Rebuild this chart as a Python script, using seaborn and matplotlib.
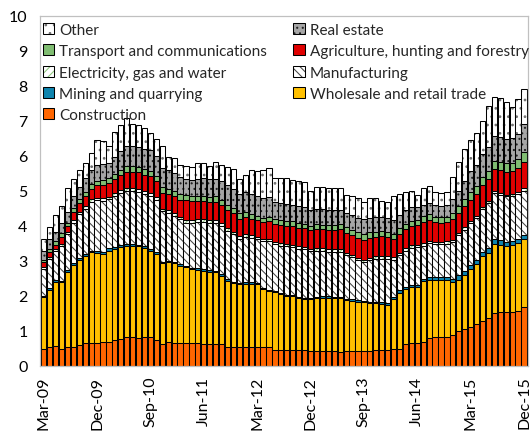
import numpy as np
import pandas as pd
import matplotlib
matplotlib.use("Agg")
import matplotlib.pyplot as plt
import matplotlib.colors as mcolors
from matplotlib.patches import Patch
import seaborn as sns

# Monthly observations, Mar-09 .. Dec-15
months = pd.date_range("2009-03-01", "2015-12-01", freq="MS")
tick_every = 9

construction = [.50, .53, .58, .49, .53, .55, .60, .65, .65, .65, .68, .70,
                .74, .77, .82, .82, .80, .82, .82, .74, .63, .68, .65, .65,
                .65, .65, .65, .63, .63, .63, .63, .55, .53, .53, .53, .53,
                .53, .53, .53, .47, .47, .47, .47, .47, .47, .42, .44, .44,
                .44, .42, .40, .44, .44, .42, .44, .44, .45, .45, .45, .49,
                .50, .62, .65, .65, .68, .80, .82, .82, .84, .90, 1.00, 1.05,
                1.12, 1.20, 1.28, 1.38, 1.52, 1.53, 1.53, 1.53, 1.57, 1.70]
wholesale = [1.46, 1.65, 1.83, 1.90, 2.15, 2.35, 2.43, 2.50, 2.60, 2.58, 2.52, 2.60,
             2.60, 2.62, 2.62, 2.61, 2.62, 2.55, 2.48, 2.46, 2.30, 2.28, 2.28, 2.22,
             2.17, 2.12, 2.10, 2.09, 2.07, 2.05, 1.95, 1.89, 1.84, 1.81, 1.82, 1.82,
             1.81, 1.67, 1.62, 1.65, 1.59, 1.54, 1.52, 1.47, 1.44, 1.49, 1.49, 1.51,
             1.51, 1.52, 1.54, 1.44, 1.43, 1.42, 1.38, 1.36, 1.34, 1.33, 1.30, 1.43,
             1.60, 1.58, 1.60, 1.60, 1.74, 1.66, 1.63, 1.63, 1.61, 1.50, 1.47, 1.55,
             1.65, 1.71, 1.85, 1.84, 1.96, 1.93, 1.89, 1.93, 1.95, 1.92]
mining = [.03, .04, .04, .05, .05, .05, .05, .05, .05, .05, .06, .06,
          .06, .06, .05, .05, .05, .05, .05, .05, .04, .04, .04, .04,
          .04, .04, .04, .04, .04, .04, .04, .04, .04, .04, .05, .05,
          .03, .03, .03, .03, .03, .03, .03, .03, .03, .04, .04, .04,
          .04, .04, .04, .04, .04, .04, .04, .04, .04, .04, .04, .06,
          .06, .07, .07, .07, .07, .08, .08, .08, .09, .10, .12, .12,
          .13, .13, .14, .14, .14, .14, .13, .12, .12, .12]
manufacturing = [.78, .84, .85, 1.00, 1.04, 1.15, 1.25, 1.30, 1.38, 1.45, 1.45, 1.40,
                 1.45, 1.50, 1.51, 1.52, 1.50, 1.50, 1.52, 1.50, 1.45, 1.38, 1.33, 1.28,
                 1.24, 1.28, 1.33, 1.35, 1.35, 1.38, 1.38, 1.38, 1.35, 1.25, 1.28, 1.25,
                 1.26, 1.33, 1.38, 1.33, 1.35, 1.38, 1.37, 1.38, 1.40, 1.33, 1.33, 1.30,
                 1.28, 1.28, 1.29, 1.25, 1.20, 1.15, 1.10, 1.18, 1.22, 1.25, 1.28, 1.05,
                 1.00, 1.02, 1.05, 1.07, .95, .97, .95, .95, .95, 1.05, 1.15, 1.18,
                 1.18, 1.20, 1.22, 1.30, 1.33, 1.30, 1.30, 1.28, 1.28, 1.27]
electricity = [.05, .05, .05, .05, .07, .07, .07, .07, .08, .08, .08, .08,
               .08, .08, .09, .09, .09, .08, .08, .08, .08, .08, .08, .08,
               .08, .08, .08, .08, .08, .08, .08, .08, .08, .08, .08, .08,
               .07, .07, .07, .07, .07, .07, .07, .07, .07, .07, .07, .07,
               .07, .07, .07, .07, .07, .07, .08, .08, .08, .08, .08, .08,
               .08, .08, .08, .08, .08, .07, .07, .07, .07, .06, .06, .06,
               .05, .05, .05, .05, .05, .05, .05, .05, .05, .07]
agriculture = [.15, .14, .12, .19, .16, .23, .25, .28, .30, .35, .38, .38,
               .40, .43, .45, .45, .47, .47, .47, .45, .45, .45, .47, .48,
               .57, .55, .52, .52, .52, .52, .52, .52, .52, .50, .50, .48,
               .48, .48, .50, .52, .52, .52, .53, .52, .52, .53, .55, .55,
               .56, .56, .57, .57, .57, .57, .57, .57, .56, .56, .55, .53,
               .54, .55, .55, .55, .59, .59, .57, .55, .55, .58, .58, .60,
               .62, .62, .62, .62, .62, .65, .65, .65, .68, .74]
transport = [.07, .08, .11, .11, .10, .12, .12, .12, .13, .14, .14, .14,
             .15, .15, .17, .17, .16, .16, .16, .16, .16, .16, .16, .16,
             .15, .15, .15, .15, .15, .15, .15, .15, .15, .15, .13, .12,
             .12, .12, .12, .14, .14, .14, .14, .14, .14, .13, .13, .13,
             .14, .14, .14, .15, .15, .15, .16, .15, .15, .15, .14, .14,
             .15, .15, .15, .15, .17, .17, .15, .15, .15, .17, .18, .20,
             .22, .22, .24, .24, .24, .24, .24, .24, .26, .30]
real_estate = [.24, .30, .26, .31, .29, .33, .35, .40, .42, .45, .45, .45,
               .50, .52, .58, .58, .58, .58, .58, .56, .55, .52, .50, .50,
               .43, .45, .48, .50, .50, .50, .53, .55, .55, .55, .58, .58,
               .57, .57, .57, .48, .48, .48, .48, .48, .48, .44, .44, .44,
               .43, .43, .41, .42, .42, .42, .42, .42, .42, .40, .38, .38,
               .38, .38, .38, .38, .33, .33, .33, .33, .33, .40, .45, .52,
               .60, .62, .65, .70, .71, .71, .70, .70, .72, .79]
other = [.35, .35, .48, .48, .71, .49, .48, .43, .49, .70, .66, .49,
         .72, .77, .79, .63, .61, .59, .50, .48, .62, .38, .44, .34,
         .39, .36, .45, .44, .38, .47, .47, .52, .57, .43, .49, .70,
         .71, .80, .83, .68, .72, .74, .70, .74, .72, .56, .61, .64,
         .61, .64, .64, .52, .55, .55, .49, .56, .53, .46, .46, .71,
         .60, .53, .48, .34, .47, .48, .36, .36, .39, .63, .82, .92,
         .88, .90, .95, 1.17, 1.13, 1.10, 1.04, .89, 1.00, 1.01]

# stacking order, bottom to top: (label, values, face, hatch, hatch colour)
layers = [
    ("Construction", construction, "#FF6600", None, "black"),
    ("Wholesale and retail trade", wholesale, "#FFC000", None, "black"),
    ("Mining and quarrying", mining, "#0E84AE", None, "black"),
    ("Manufacturing", manufacturing, "white", "\\\\\\\\", "#454545"),
    ("Electricity, gas and water", electricity, "white", "////", "#8CC57A"),
    ("Agriculture, hunting and forestry", agriculture, "#E00000", None, "black"),
    ("Transport and communications", transport, "#80BD72", None, "black"),
    ("Real estate", real_estate, "#A6A6A6", "...", "#222222"),
    ("Other", other, "white", "..", "#707070"),
]

sns.set_theme(style="white")
plt.rcParams["font.family"] = ["Lato", "DejaVu Sans"]
plt.rcParams["hatch.linewidth"] = 0.75

fig = plt.figure(figsize=(5.31, 4.35), dpi=100)
ax = fig.add_axes([40 / 531, 1 - 367 / 435, 488 / 531, 350 / 435])

values = np.array([layer[1] for layer in layers])
tops = np.cumsum(values, axis=0)
pos = np.arange(len(months))

# draw cumulative bars from the top series down so each lower one covers the rest
for k in reversed(range(len(layers))):
    label, _, face, hatch, hcol = layers[k]
    n_before = len(ax.patches)
    sns.barplot(x=pos, y=tops[k], color=face, saturation=1, width=0.88,
                edgecolor="black", linewidth=0.75, hatch=hatch,
                errorbar=None, ax=ax)
    for p in ax.patches[n_before:]:
        p._hatch_color = mcolors.to_rgba(hcol)

ax.set_xlim(-0.62, len(months) - 1 + 0.67)
ax.set_ylim(0, 10)
ax.set_yticks(range(0, 11))
ax.set_yticklabels([str(v) for v in range(0, 11)])
tick_pos = pos[::tick_every]
ax.set_xticks(tick_pos)
ax.set_xticklabels([months[i].strftime("%b-%y") for i in tick_pos], rotation=90)
ax.set_xlabel("")
ax.set_ylabel("")
ax.tick_params(axis="both", labelsize=11.5, colors="#000000", direction="in",
               length=3, width=0.8, color="#BFBFBF")
ax.tick_params(axis="y", pad=9)
ax.tick_params(axis="x", pad=7)
for s in ax.spines.values():
    s.set_color("#C0C0C0")
    s.set_linewidth(0.9)

handles = {}
for label, _, face, hatch, hcol in layers:
    h = Patch(facecolor=face, edgecolor="black", linewidth=0.75, hatch=hatch, label=label)
    h._hatch_color = mcolors.to_rgba(hcol)
    handles[label] = h
order = ["Other", "Transport and communications", "Electricity, gas and water",
         "Mining and quarrying", "Construction",
         "Real estate", "Agriculture, hunting and forestry", "Manufacturing",
         "Wholesale and retail trade"]
leg = ax.legend([handles[o] for o in order], order, ncol=2, loc="upper left",
                bbox_to_anchor=(-0.008, 1.0), frameon=False, fontsize=11,
                handlelength=0.75, handleheight=0.75, handletextpad=0.3,
                columnspacing=1.74, labelspacing=0.48, borderaxespad=0.15,
                borderpad=0.3)

fig.savefig("out.png", dpi=100)
